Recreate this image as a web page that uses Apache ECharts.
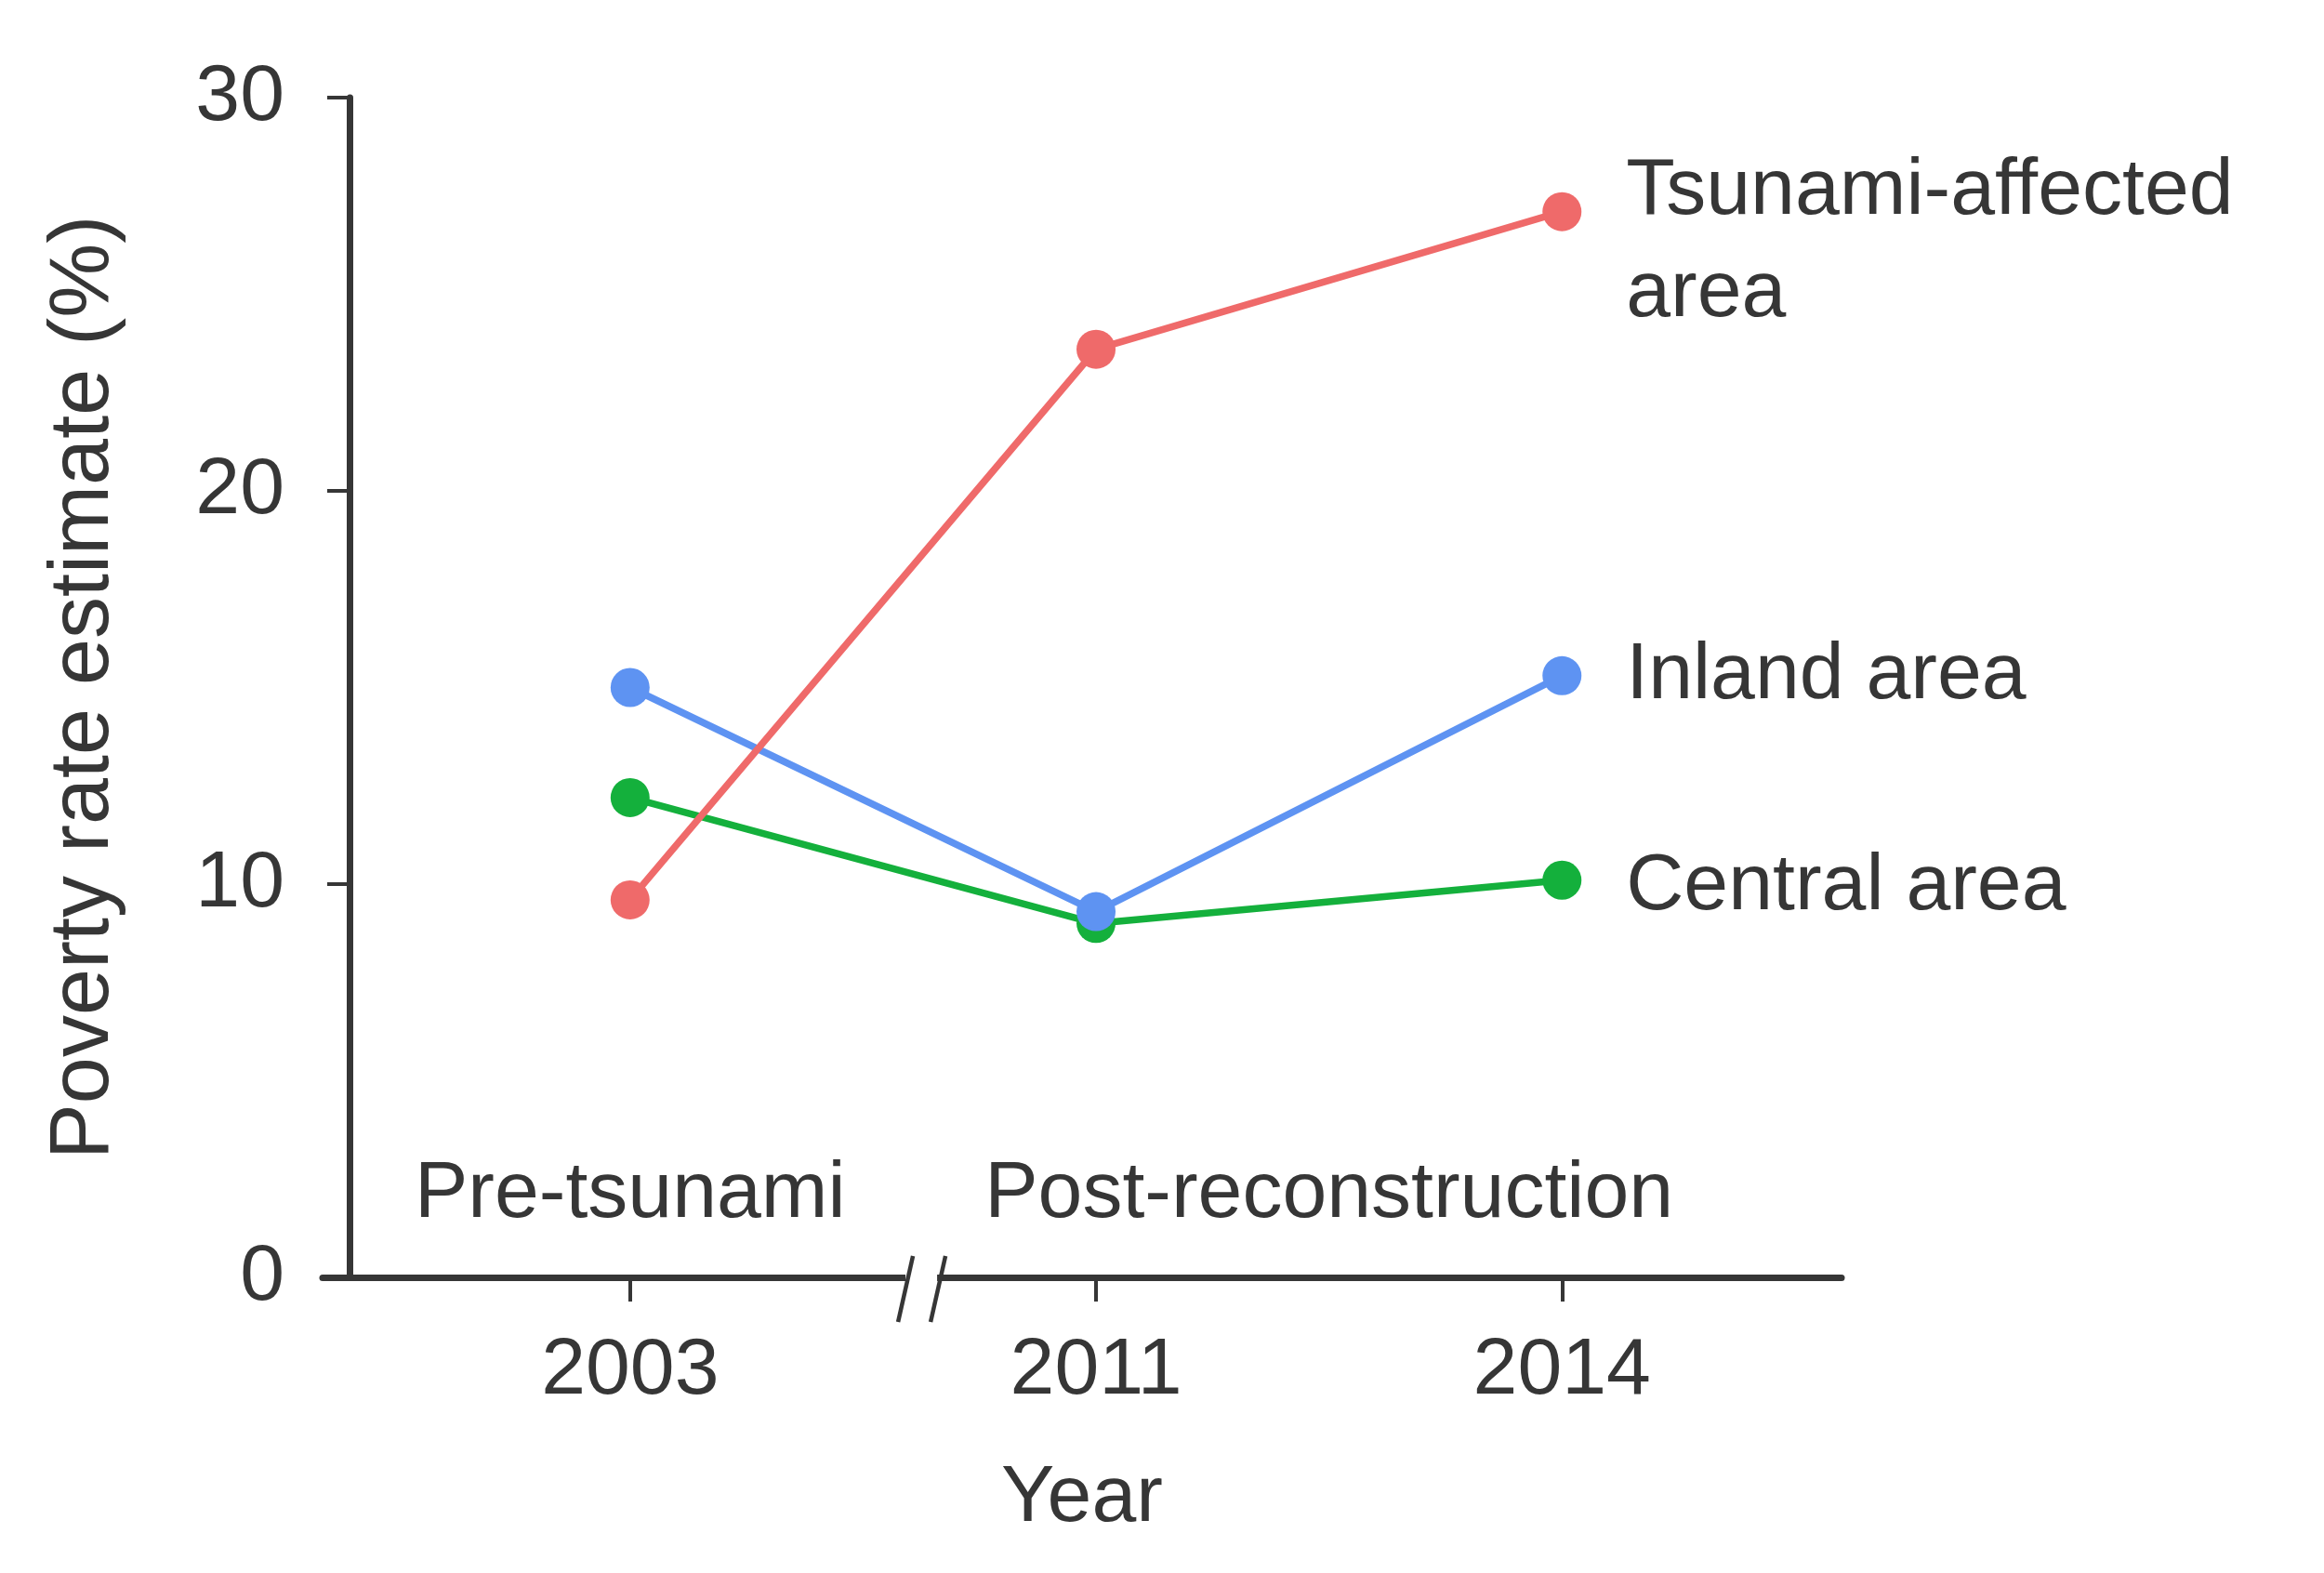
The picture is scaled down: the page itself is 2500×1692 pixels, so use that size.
<!DOCTYPE html>
<html>
<head>
<meta charset="utf-8">
<title>Poverty rate estimate</title>
<script src="https://cdn.jsdelivr.net/npm/echarts@6.0.0/dist/echarts.min.js"></script>
<style>
  html, body { margin: 0; padding: 0; background: #fff; }
  #chart { width: 2500px; height: 1692px; }
</style>
</head>
<body>
<div id="chart"></div>
<script>
// category positions on the x axis (0, 1, 2) and their labels
const years = ['2003', '2011', '2014'];
const periods = ['Pre-tsunami', 'Post-reconstruction'];
const periodAt = [0, 1.5];
const breakAt = 0.625;
const yTicks = [0, 10, 20, 30];

// poverty rate estimates (%)
const tsunami = [9.6, 23.6, 27.1];
const inland = [15.0, 9.3, 15.3];
const central = [12.2, 9.0, 10.1];

const seriesNames = ['Tsunami-affected\narea', 'Inland area', 'Central area'];
const seriesColors = ['#EF6A6A', '#5E93F2', '#14B03C'];

const TEXT = '#363636';
const FONT = "'Liberation Sans', Arial, sans-serif";

const chart = echarts.init(document.getElementById('chart'));

function makeSeries(name, values, color, labelOffset) {
  const last = values.length - 1;
  return {
    name,
    type: 'line',
    data: values.map((v, i) => [i, v]),
    symbol: 'circle',
    symbolSize: 42,
    lineStyle: { color, width: 7.5 },
    itemStyle: { color },
    label: {
      show: true,
      position: 'right',
      distance: 48,
      offset: labelOffset,
      color: TEXT,
      fontFamily: FONT,
      fontSize: 86,
      lineHeight: 110,
      align: 'left',
      formatter: (p) => (p.dataIndex === last ? name : ''),
    },
    emphasis: { disabled: true },
  };
}

const option = {
  animation: false,
  backgroundColor: '#fff',
  grid: {
    left: 347,
    right: 519,
    top: 105,
    bottom: 318,
  },
  xAxis: [{
    type: 'value',
    min: -0.66,
    max: 2.6,
    name: 'Year',
    nameLocation: 'middle',
    nameGap: 195,
    nameTextStyle: { color: TEXT, fontFamily: FONT, fontSize: 86 },
    axisLine: { show: true, onZero: false, lineStyle: { color: TEXT, width: 7 } },
    axisTick: {
      show: true,
      customValues: [0, 1, 2],
      length: 26,
      lineStyle: { color: TEXT, width: 4 },
    },
    axisLabel: {
      customValues: [0, 1, 2],
      formatter: (v) => years[Math.round(v)],
      color: TEXT,
      fontFamily: FONT,
      fontSize: 86,
      margin: 58,
    },
    splitLine: { show: false },
  }, {
    type: 'value',
    min: -0.66,
    max: 2.6,
    position: 'bottom',
    axisLine: { show: false, onZero: false },
    axisTick: { show: false },
    axisLabel: {
      inside: true,
      customValues: periodAt,
      formatter: (v) => periods[periodAt.indexOf(v)],
      color: TEXT,
      fontFamily: FONT,
      fontSize: 86,
      margin: 46,
    },
    splitLine: { show: false },
  }],
  yAxis: {
    type: 'value',
    min: 0,
    max: 30,
    interval: 10,
    offset: -29,
    name: 'Poverty rate estimate (%)',
    nameLocation: 'middle',
    nameGap: 240,
    nameTextStyle: { color: TEXT, fontFamily: FONT, fontSize: 90 },
    axisLine: { show: true, onZero: false, lineStyle: { color: TEXT, width: 7 } },
    axisTick: { show: true, length: 24, lineStyle: { color: TEXT, width: 4 } },
    axisLabel: {
      color: TEXT,
      fontFamily: FONT,
      fontSize: 86,
      margin: 70,
      formatter: (v) => (yTicks.includes(v) ? String(v) : ''),
    },
    splitLine: { show: false },
  },
  series: [
    makeSeries(seriesNames[2], central, seriesColors[2], [0, 8]),
    makeSeries(seriesNames[1], inland, seriesColors[1], [0, 0]),
    makeSeries(seriesNames[0], tsunami, seriesColors[0], [0, 34]),
  ],
};

chart.setOption(option);

// axis break mark "//" placed on the x axis through the scale
const p = chart.convertToPixel({ xAxisIndex: 0, yAxisIndex: 0 }, [breakAt, 0]);
const cx = p[0];
const cy = p[1];
chart.setOption({
  graphic: [{
    type: 'rect',
    shape: { x: cx - 17, y: cy - 7, width: 34, height: 14 },
    style: { fill: '#fff' },
    z: 100,
  }, {
    type: 'line',
    shape: { x1: cx - 9, y1: cy - 23, x2: cx - 25, y2: cy + 48 },
    style: { stroke: TEXT, lineWidth: 4.5 },
    z: 101,
  }, {
    type: 'line',
    shape: { x1: cx + 26, y1: cy - 23, x2: cx + 10, y2: cy + 48 },
    style: { stroke: TEXT, lineWidth: 4.5 },
    z: 101,
  }],
});
</script>
</body>
</html>
